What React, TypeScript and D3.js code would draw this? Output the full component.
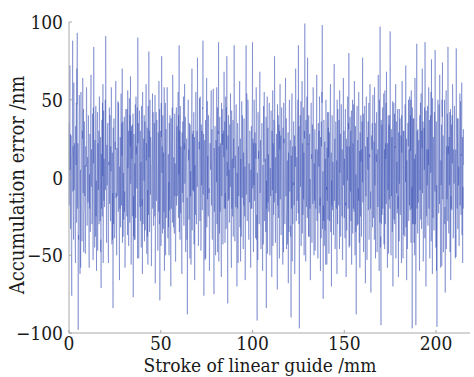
import React from "react";
import * as d3 from "d3";

// Samples on the half-millimetre grid (0, 0.5, 1, ... 215 mm)
const errorOnHalfMm: number[] = [
  35, 72, -12, -76, 88, -40, 22, -55, 48, 93, -98, 30, -62, 55, -18, 64, -48, 12, -35, 58,
  -22, 40, -58, 18, 66, -30, 8, 84, -45, 25, -60, 42, -8, 52, -28, -71, 36, 60, -15, 20,
  91, -42, 30, -55, 45, -20, 58, 5, -84, 38, -32, 62, -50, 15, 48, -66, 24, -10, 70, -38,
  12, -58, 44, -25, 56, -44, 28, 65, -18, 34, -77, 20, -40, 52, -6, 90, -52, 38, -28, 46,
  -62, 18, 40, -34, 60, -14, -56, 81, -30, 26, -48, 54, -20, 35, -68, 42, 10, -45, 62, -79,
  30, 78, -36, 16, -60, 48, -26, 58, -8, -50, 40, -70, 22, 66, -32, 28, -54, 45, -12, 55,
  85, -40, 20, -62, 36, -18, 60, -46, 14, -88, 50, -24, 34, -56, 70, -8, 42, -66, 26, -30,
  77, -44, 18, 52, -38, 30, 88, -76, 24, -52, 64, -14, 40, -60, 10, 56, -34, 46, -75, 32,
  -20, 58, -48, 87, -36, 22, -64, 44, -6, 68, -42, 16, 78, -81, 34, -26, 54, -58, 12, -38,
  85, -30, 46, -70, 28, -12, 62, -54, 20, 40, -46, 14, -66, 85, -22, 50, -40, 30, -58, 18,
  87, -48, 36, -20, 58, -92, 42, -10, 68, -36, 24, -60, 46, -28, 12, -84, 52, -16, 38, -50,
  30, -64, 56, -24, 78, -42, 18, -72, 40, -8, 60, -34, 26, -56, 48, -18, 64, -46, 10, -68,
  44, 20, -90, 54, -30, 36, -62, 70, -14, 28, 85, -97, 40, -44, 62, -24, 16, 99, -54, 34,
  77, -38, 22, -66, 48, -12, 58, -50, 30, -20, 66, -42, 14, 52, -60, 36, 98, -78, 26, -34,
  50, -56, 18, 42, -28, 60, -70, 32, -10, 73, -46, 24, -62, 44, -18, 56, -38, 12, -52, 64,
  -26, 38, -64, 20, -8, 80, -44, 30, -56, 50, -20, 62, 14, -88, 46, -30, 24, -58, 40, -12,
  77, -48, 28, -68, 52, -16, 36, -40, 60, -74, 18, 44, -26, 58, -52, 10, -36, 66, -60, 97,
  -95, 34, -20, 54, -46, 22, 68, -58, 40, -14, 94, -50, 26, -70, 48, -30, 60, -10, 36, -64,
  44, -24, 16, 62, -52, 30, -38, 72, -66, 20, 50, -18, 40, 56, -97, 38, -42, 64, -95, 86,
  -36, 24, -60, 48, -12, 70, -54, 32, 87, -70, 18, -28, 58, -46, 40, 76, -62, 26, -20, 82,
  -40, -96, 50, -22, 66, -58, 34, 74, -48, 20, -74, 56, -14, 84, -36, 42, -66, 28, 60, -30,
  46, -52, 83, -20, 38, -44, 54, -10, 61, -55, 8,
];
// Samples between them (0.25, 0.75, ... 214.75 mm)
const errorOnQuarterMm: number[] = [
  10, 28, -45, 15, 20, -8, -30, 18, 70, -20, -40, -15, 5, 22, 30, -10, -22, 8, 15, -5,
  12, -18, -20, 42, 18, -12, 45, 20, -8, -25, 10, 22, 30, 5, -48, -20, 48, 25, 2, 50,
  30, -5, -18, 8, 15, 20, 28, -40, -30, 5, 18, -10, -12, 32, -8, -20, 8, 35, 20, -25,
  -22, -5, 12, 18, 10, -15, 40, 30, 12, -25, -38, -12, -8, 20, 45, 35, -15, 8, 10, -18,
  -20, 25, 5, 15, 22, -38, 12, 30, -5, -10, 8, 18, 10, -25, -20, 28, -18, 12, -30, -25,
  48, 20, -15, -22, -10, 12, 15, 28, -32, -8, -25, -20, 45, 15, -5, -12, -8, 18, 25, 40,
  30, -12, -20, -10, 8, 22, 5, -15, -40, -22, 18, 5, -12, 15, 28, 20, -15, -18, 2, 30,
  20, -10, 35, 8, -5, 45, 10, -30, -12, 8, 25, -15, -10, -25, 38, 12, 10, -20, -22, 5,
  18, -8, 30, 20, -5, -25, -12, 28, 30, 18, -20, 45, 10, -15, 5, 18, -12, -20, -15, 25,
  28, 10, -18, -20, 8, 25, -15, -12, 30, -5, -18, -25, 15, 30, 12, 5, -8, -12, -20, 40,
  25, -5, 10, 22, -40, -15, 12, 28, 15, -10, -18, 8, 10, -12, -35, -20, 18, 12, -8, -5,
  -12, -8, 22, 35, 20, -10, -25, -18, 15, 30, 12, -5, -15, 10, 25, 20, -12, -20, -30, -10,
  35, -38, -20, 10, -5, -12, 20, 25, 8, 50, -30, -20, 5, 12, 22, 45, 30, -15, -8, 40,
  22, -10, -20, -8, 15, 25, 5, -15, 8, 20, 18, -12, 30, -18, -10, 55, -20, -28, 5, 12,
  -8, -15, 32, 10, 18, -20, -18, 10, 30, 12, -22, -20, -8, 15, 20, 8, -10, -25, 10, 18,
  5, -18, -25, -2, 35, 20, -5, -12, 8, 22, 25, -40, -35, 10, -5, -15, -10, 5, 18, 30,
  20, -5, -15, -12, 25, 10, 8, 15, -20, -30, 35, 8, 22, -5, -25, -12, 18, 10, 30, -45,
  -30, 8, 20, -10, -15, 48, 5, -8, 15, 40, 22, -12, -25, -8, 12, 20, 28, 10, -20, -8,
  12, -10, 40, 8, -18, -5, 20, 5, -25, 35, 18, 10, 50, -20, -30, 5, 12, -30, -20, 30,
  -12, -20, -8, 22, 30, 8, -15, 45, 5, -22, -5, 18, 10, -5, 55, 12, -20, -5, 28, -20,
  -60, -25, 8, 20, 10, -5, 50, 12, -10, -30, -8, 20, 35, 20, -5, -12, -20, 40, 15, 10,
  -8, 18, 25, 10, -5, 8, 20, 15, -2, -20,
];
// Samples on the odd eighths (0.125, 0.375, ... 214.875 mm)
const errorOnEighthMm: number[] = [
  -18, 42, 5, -33, 27, -51, 14, 38, -9, -26, 61, -4, 19, -44, 33, 8, -29, 47, -15, 22,
  -37, 11, 53, -20, 3, -58, 30, 16, -41, 25, -7, 44, -23, 36, -12, -49, 20, 7, 56, -31,
  13, -16, 39, -45, 2, 28, -35, 50, -6, 17, -27, 41, -53, 9, 31, -14, 24, -38, 46, -2,
  -21, 34, -47, 18, 6, -30, 52, -11, 26, -40, 15, 37, -25, 1, -55, 43, 12, -19, 29, -8,
  48, -34, 21, -3, 35, -50, 10, 27, -17, 40, -28, 4, 57, -43, 16, -10, 32, -24, 8, -39,
  23, 45, -13, -36, 19, -5, 49, -22, 31, -46, 7, 26, -32, 54, -18, 14, -42, 36, 3, -27,
  39, -9, -48, 25, 12, -21, 44, -37, 6, 30, -15, 51, -29, 20, -4, -56, 33, 17, -23, 41,
  -12, 28, -40, 9, 47, -26, 15, -7, 38, -52, 22, 1, -34, 43, -19, 30, 5, -45, 24, -14,
  55, -30, 18, -2, -41, 36, -16, 27, 11, -49, 32, -8, 46, -24, 13, -35, 50, -11, 21, -57,
  8, 34, -20, 42, -31, 16, -6, 53, -38, 25, -15, 37, 4, -47, 29, -22, 10, 44, -28, 19,
  -44, 26, 3, -17, 40, -33, 12, 58, -25, 7, -50, 31, -10, 22, 45, -39, 15, -3, 35, -21,
  17, -46, 38, -12, 24, -29, 50, -5, 13, -36, 41, 9, -54, 27, -18, 33, -8, 48, -26, 2,
  -35, 20, 46, -23, 10, -42, 29, 6, -16, 52, -31, 18, -4, 39, -48, 14, 25, -13, -37, 43,
  11, -27, 35, -52, 21, 4, -19, 47, -34, 16, 30, -9, -43, 26, 8, -24, 55, -30, 12, -6,
  40, -15, -38, 23, 51, -28, 9, -47, 34, 2, -21, 44, -11, 28, -36, 17, -53, 37, -1, 20,
  -32, 49, 14, -25, 36, -7, -45, 22, 5, 42, -18, 31, -40, 11, 57, -27, 19, -12, 33, -50,
  24, -3, -30, 45, -16, 28, -54, 15, 39, -22, 7, -37, 48, -9, 21, -43, 30, 13, -20, 36,
  -10, 52, -33, 18, 1, -48, 27, 40, -14, -29, 34, -6, 23, -51, 43, 10, -25, 37, -17, 6,
  30, -41, 14, -19, 47, -26, 3, 35, -55, 20, -8, 42, -32, 25, 12, -38, 49, -13, 28, -45,
  16, 38, -23, 7, -47, 31, -11, 54, -28, 19, 44, -36, 9, -16, 27, -42, 5, 33, -20, 46,
  -7, -34, 22, 50, -15, 29, -39, 12, 41, -24, 3, -53, 36, 17, -30, 45, -10, 24, -46, 14,
  35, -19, 8, -43, 26, 55, -27, 10, -35, 39, -2, 21, -49, 32, 15, -22, 48, -31, 6, -12,
  43, -25, 30, -8, -44, 19, 37, -16, 51, -33, 13, -5, 28, -41, 47, 2, -26, 34, -52, 18,
  -14, 27, -37, 45, 9, -20, 32, -48, 22, 6, -30, 53, -12, 38, -24, 11, -43, 29, 16, -35,
  50, -9, 24, -31, 14, 41, -54, 20, -3, 36, -18, 27, -40, 7, 46, -28, 13, -15, 39, -23,
  5, 33, -45, 18, -6, 49, -22, 30, -36, 11, 43, -14, -50, 25, 2, -32, 37, -19, 52, -26,
  21, -11, 40, -38, 28, -1, -25, 46, 12, -42, 34, -17, 55, -29, 9, 31, -47, 18, -4, 38,
  -28, 15, -52, 35, 7, -23, 44, -13, 26, -39, 20, 48, -33, 4, -18, 37, -44, 23, 10, -56,
  32, -6, 19, 42, -27, 13, -49, 29, -10, 54, -35, 16, -2, 40, -21, 8, -37, 45, -15, 25,
  -41, 36, -19, 11, 50, -30, 22, -8, 37, -46, 3, 28, -24, 47, -12, 18, -53, 34, -5, 30,
  12, -39, 44, -16, 25, -34, 6, 52, -20, 31, -45, 15, 39, -9, -28, 43, -14, 21, -36, 9,
  47, -22, 14, -50, 33, 2, -18, 40, -31, 24, -7, 55, -42, 17, 29, -25, 10, -38, 36, -3,
  -16, 41, -29, 8, 46, -37, 20, -12, 34, -53, 26, 5, -21, 48, -34, 13, 30, -9, -44, 27,
  19, -32, 53, -14, 23, -40, 9, 35, -26, 15, 42, -48, 7, -19, 32, -6, 50, -29, 16, -38,
  37, 4, -24, 45, -11, 28, -43, 18, 56, -30, 12, -17, 39, -36, 22, -1, -49, 34, 11, -20,
  26, -47, 31, 2, -35, 49, -15, 24, -27, 41, -8, 19, -52, 36, 6, -23, 44, -12, 29, -41,
  -4, 38, -18, 27, -55, 16, 43, -9, 30, -37, 14, -24, 47, -3, -32, 25, 11, -46, 35, 20,
  -28, 9, 52, -21, 17, -42, 33, -6, 45, -14, -30, 38, 1, -50, 27, 15, -36, 48, -20, 7,
  31, -16, 23, -44, 40, 10, -27, 54, -33, 19, -10, 36, -48, 22, 5, -39, 29, -7, 43, -25,
  14, 46, -31, 8, -20, 37, -52, 25, 3, -41, 30, -13, 51, -26, 16, -34, 42, -9, 21, -45,
  36, -5, -38, 28, 13, -23, 47, -17, 33, -43, 11, 24, -57, 39, -14, 27, -30, 6, 50, -19,
  -9, 32, -46, 20, 41, -28, 15, -35, 26, 2, -48, 44, -12, 34, -21, 9, 53, -39, 18, -4,
  43, -26, 12, -51, 30, -15, 38, -33, 21, 7, -44, 35, -18, 49, -24, 14, -37, 26, -6, 31,
];
const xTicks = [0, 50, 100, 150, 200];
const yTicks = [-100, -50, 0, 50, 100];
const xLabel = "Stroke of linear guide /mm";
const yLabel = "Accumulation error /nm";

const W = 474;
const H = 377;
const FONT = "'DejaVu Serif Condensed', 'DejaVu Serif', serif";

type Pt = { s: number; e: number };
const points: Pt[] = [
  ...errorOnHalfMm.map((e, i) => ({ s: i * 0.5, e })),
  ...errorOnQuarterMm.map((e, i) => ({ s: i * 0.5 + 0.25, e })),
  ...errorOnEighthMm.map((e, i) => ({ s: i * 0.25 + 0.125, e })),
].sort((a, b) => a.s - b.s);

export default function App() {
  const x = d3.scaleLinear().domain([0, 218.5]).range([69, 470]);
  const y = d3.scaleLinear().domain([-100, 100]).range([333, 22]);
  const line = d3
    .line<Pt>()
    .x((d) => x(d.s))
    .y((d) => y(d.e));
  const axisColor = "#a8a8a8";
  const textProps = { fontFamily: FONT, fontStretch: "condensed", fill: "#1a1a1a" };
  return (
    <svg
      width={W}
      height={H}
      style={{ position: "absolute", left: 0, top: 0, background: "#fff" }}
    >
      <path
        d={line(points) || ""}
        fill="none"
        stroke="#2f48b0"
        strokeWidth={0.7}
        strokeOpacity={0.55}
      />
      <line x1={x(0)} x2={470} y1={y(-100)} y2={y(-100)} stroke={axisColor} strokeWidth={1} />
      <line x1={x(0)} x2={x(0)} y1={y(-100)} y2={y(100)} stroke={axisColor} strokeWidth={1} />
      {xTicks.map((t) => (
        <g key={"x" + t}>
          <line x1={x(t)} x2={x(t)} y1={y(-100)} y2={y(-100) - 3} stroke={axisColor} />
          <text x={x(t)} y={349.5} textAnchor="middle" fontSize={19} {...textProps}>
            {t}
          </text>
        </g>
      ))}
      {yTicks.map((t) => (
        <g key={"y" + t}>
          <line x1={x(0)} x2={x(0) + 3} y1={y(t)} y2={y(t)} stroke={axisColor} />
          <text x={63} y={y(t) + 7} textAnchor="end" fontSize={19} {...textProps}>
            {t < 0 ? "\u2212" + Math.abs(t) : t}
          </text>
        </g>
      ))}
      <text x={260} y={372} textAnchor="middle" fontSize={19} {...textProps}>
        {xLabel}
      </text>
      <text
        transform={`translate(24, 185) rotate(-90)`}
        textAnchor="middle"
        fontSize={20}
        {...textProps}
      >
        {yLabel}
      </text>
    </svg>
  );
}
